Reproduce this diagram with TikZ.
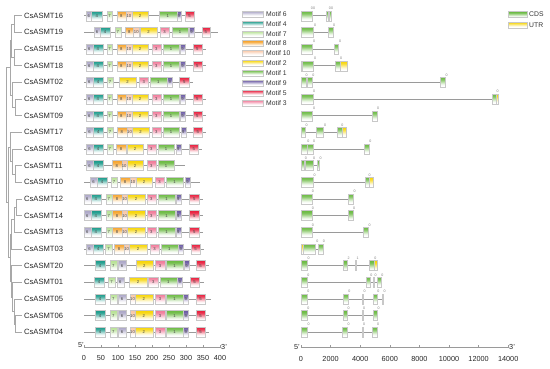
\documentclass[tikz,border=0pt]{standalone}
\usepackage{fontspec}
\setmainfont{Liberation Sans}
\definecolor{m1}{HTML}{6DBB45}
\definecolor{m2}{HTML}{F7D508}
\definecolor{m3}{HTML}{F07C9B}
\definecolor{m4}{HTML}{1E9C8C}
\definecolor{m5}{HTML}{E8213F}
\definecolor{m6}{HTML}{ADA8C8}
\definecolor{m7}{HTML}{B8E296}
\definecolor{m8}{HTML}{F6A531}
\definecolor{m9}{HTML}{6C5BA5}
\definecolor{m10}{HTML}{F9C7A6}
\definecolor{mc}{HTML}{6DBB45}
\definecolor{mu}{HTML}{F7D508}
\definecolor{boxgray}{HTML}{C8C8C8}
\definecolor{linegray}{HTML}{9A9A9A}
\definecolor{treegray}{HTML}{A8A8A8}
\definecolor{txtgray}{HTML}{444444}
\tikzset{
  lbl/.style={font=\fontsize{7.6}{8}\selectfont, text=black!85, inner sep=0pt, anchor=west},
  motlbl/.style={font=\fontsize{4.2}{4.5}\selectfont, text=txtgray, inner sep=0pt},
  phlbl/.style={font=\fontsize{3.6}{4}\selectfont, text=gray, inner sep=0pt},
  leglbl/.style={font=\fontsize{6.8}{7}\selectfont, text=black!80, inner sep=0pt, anchor=west},
  axlbl/.style={font=\fontsize{7.3}{8}\selectfont, text=black!85, inner sep=0pt},
  bb/.style={line width=0.3pt, draw=boxgray},
  protline/.style={draw=linegray, line width=0.8pt},
  treeline/.style={draw=treegray, line width=0.6pt},
}
% gradient box: y, x1, x2, colour; solid colour at top fading to white at bottom
\newcommand\gbox[4]{%
  \foreach \gk/\pc in {0/100,1/96,2/88,3/76,4/60,5/44,6/28,7/14,8/5,9/0} {
    \fill[#4!\pc] (#2,#1-5+\gk) rectangle (#3,#1-3.9+\gk);}
  \draw[bb] (#2,#1-5) rectangle (#3,#1+5);}
% legend swatch: y, x1, x2, colour (height 6)
\newcommand\lbox[4]{%
  \foreach \lk/\pc in {0/100,1/85,2/60,3/35,4/12,5/0} {
    \fill[#4!\pc] (#2,#1-3+\lk) rectangle (#3,#1-1.9+\lk);}
  \draw[bb] (#2,#1-3) rectangle (#3,#1+3);}
\newcommand\motbox[4]{%
  \gbox{#1}{#2}{#3}{m#4}%
  \node[motlbl] at ({(#2+#3)/2},#1) {#4};}
\newcommand\mrow[4]{%
  \draw[protline] (#2,#1) -- (#3,#1);
  \edef\mylist{#4}%
  \foreach \a/\b/\m in \mylist {\motbox{#1}{\a}{\b}{\m}}}
\newcommand\grow[5]{%
  \draw[protline] (#2,#1) -- (#3,#1);
  \edef\mylist{#4}%
  \foreach \a/\b/\t in \mylist {\gbox{#1}{\a}{\b}{m\t}}
  \edef\myphase{#5}%
  \foreach \p/\q in \myphase {\node[phlbl] at (\p,#1-7.5) {\q};}}
\begin{document}
\begin{tikzpicture}[x=1pt,y=-1pt]
\useasboundingbox (0,0) rectangle (550,368);

% ---------------- labels and tree ----------------
\foreach \n/\k in {16/0,19/1,15/2,18/3,02/4,07/5,09/6,17/7,08/8,11/9,10/10,12/11,14/12,13/13,03/14,20/15,01/16,05/17,06/18,04/19} {
  \node[lbl] (t\n) at (24,15.7+16.66*\k) {CsASMT\n};
}
\coordinate (n1619) at (14,24);
\coordinate (n1518) at (14,57.3);
\coordinate (nA1) at (11.7,40.7);
\coordinate (n0709) at (15,107.3);
\coordinate (nA2) at (12.7,94.8);
\coordinate (nA) at (10,67.7);
\coordinate (n1110) at (15,174);
\coordinate (n08) at (12.7,161.5);
\coordinate (nC) at (10,146.9);
\coordinate (n1214) at (16,207.2);
\coordinate (n13) at (14,219.7);
\coordinate (nD) at (11.7,234.3);
\coordinate (n0604) at (15,323.8);
\coordinate (n05) at (14,311.4);
\coordinate (n01) at (12.7,296.8);
\coordinate (nE) at (11.7,281.1);
\coordinate (nDE) at (10,257.7);
\coordinate (nBCDE) at (8,202.3);
\coordinate (root) at (6.5,135);
\foreach \p/\c in {n1619/t16,n1619/t19,n1518/t15,n1518/t18,n0709/t07,n0709/t09,nA2/t02,
  n1110/t11,n1110/t10,n08/t08,nC/t17,n1214/t12,n1214/t14,n13/t13,nD/t03,
  n0604/t06,n0604/t04,n05/t05,n01/t01,nE/t20} {
  \draw[treeline] (\p) |- ([xshift=-2pt]\c.west);
}
\foreach \p/\c in {nA1/n1619,nA1/n1518,nA2/n0709,nA/nA1,nA/nA2,n08/n1110,nC/n08,
  n13/n1214,nD/n13,n05/n0604,n01/n05,nE/n01,nDE/nD,nDE/nE,nBCDE/nC,nBCDE/nDE,root/nA,root/nBCDE} {
  \draw[treeline] (\p) |- (\c);
}

% ---------------- motif rows ----------------
\def\rowS{86/92.7/6, 92.7/102.7/4, 106.7/112.3/7, 116.7/126/8, 126/131.7/10, 131.7/148.3/2, 151.7/161/3, 162.7/179.3/1, 180/185/9, 192.7/201.7/5}
\def\rowT{84/90.7/6, 90.7/100.7/4, 106/111.7/7, 112/122/8, 122/127.3/10, 127.3/145/2, 146.7/156/3, 158.3/175/1, 176/180.7/9, 189.3/199.3/5}
\def\rowU{95/105/4, 110/116.7/7, 118.3/125.7/6, 130/135/10, 135/152.7/2, 155/165/3, 166/183.3/1, 183.3/188.3/9, 196/205/5}
\mrow{15.7}{84}{194.3}{86/91.5/6, 91.5/102/4, 106.7/112.3/7, 116.7/126/8, 126/131.7/10, 131.7/148.3/2, 159/176.7/1, 176.7/181/9, 185/194.3/5}
\mrow{32.36}{84}{218.3}{94/100/6, 100/110/4, 114.7/120.7/7, 125.3/133.3/8, 133.3/139.3/10, 140/157.3/2, 160/169.3/3, 171.7/188.3/1, 189.3/194/9, 201.7/210/5}
\mrow{49.02}{84}{206}{\rowS}
\mrow{65.68}{84}{206}{\rowS}
\mrow{82.34}{84}{193.3}{86/92.7/6, 92.7/103.3/4, 107.3/112.7/7, 119.3/136/2, 139.3/148.3/3, 150/166.7/1, 167.3/172.3/9, 179.3/189.3/5}
\mrow{99.0}{84}{206}{\rowS}
\mrow{115.66}{84}{206}{\rowS}
\mrow{132.32}{84}{206}{86/93.3/6, 93.3/103.3/4, 106.7/113.3/7, 116.7/126.7/8, 126.7/132.3/10, 132.3/149/2, 151.7/161/3, 162.7/179.3/1, 180.7/185.7/9, 193.3/202.3/5}
\mrow{148.98}{84}{202.3}{86/93.3/6, 93.3/102.7/4, 106.7/112.7/7, 116/126/8, 126.7/143.3/2, 146.7/156/3, 157.7/174.3/1, 176/180.7/9, 189.3/198.3/5}
\mrow{165.64}{84}{185}{86/93.3/6, 93.3/102.7/4, 111.7/121.7/8, 121.7/126.7/10, 126.7/143.3/2, 146.7/156/3, 157.7/174.3/1}
\mrow{182.3}{84}{200}{90/97.3/6, 97.3/106.7/4, 110.7/117.3/7, 120/130/8, 130/135.7/10, 135.7/152.3/2, 155/164.3/3, 166/183.3/1, 185/190/9}
\mrow{198.96}{84}{202.7}{\rowT}
\mrow{215.62}{84}{202.7}{\rowT}
\mrow{232.28}{84}{202.7}{\rowT}
\mrow{248.94}{84}{204}{86/93.3/6, 93.3/103.3/4, 105/112.3/7, 114/124/8, 124/129.3/10, 129.3/146.7/2, 150/159/3, 161/177.7/1, 178.3/183.3/9, 191/200/5}
\mrow{265.6}{84}{209.3}{95/105/4, 110/116.7/7, 118.3/125.7/6, 136/152.7/2, 155/165/3, 166/183.3/1, 184/189/9, 196/205/5}
\mrow{282.26}{84}{204}{94/104/4, 108.3/115/7, 116.7/124/6, 129.3/146.7/2, 148.3/158.3/3, 160/176.7/1, 177.3/182.3/9, 190/199.3/5}
\mrow{298.92}{84}{211}{\rowU}
\mrow{315.58}{84}{209}{\rowU}
\mrow{332.24}{84}{209}{\rowU}

% ---------------- motif axis ----------------
\draw[protline, line width=0.6pt] (84,347.5) -- (220,347.5);
\foreach \v in {0,50,...,400} {
  \draw[linegray, line width=0.5pt] ({84+0.34*\v},347.5) -- ({84+0.34*\v},344.5);
  \node[axlbl] at ({84+0.34*\v},358) {\v};
}
\node[axlbl, anchor=south east] at (84,348) {5'};
\node[axlbl, anchor=south west] at (221,350) {3'};

% ---------------- motif legend ----------------
\foreach \m/\j in {6/0,4/1,7/2,8/3,10/4,2/5,1/6,9/7,5/8,3/9} {
  \pgfmathsetmacro\ly{14+9.85*\j}
  \lbox{\ly}{242}{263}{m\m}
  \node[leglbl] at (266,\ly) {Motif \m};
}

% ---------------- gene structure rows ----------------
\grow{15.7}{301}{330.7}{301/311.7/c, 326/328.3/c, 329/330.7/c}{313/00, 331/00}
\grow{32.36}{301}{332.7}{301/313.3/c, 327.7/332.7/c}{315/0, 334/0}
\grow{49.02}{301}{338.3}{301/312.3/c, 334/338.3/c}{314/0, 340/0}
\grow{65.68}{301}{346.7}{301/302/u, 302/313.3/c, 335/340/c, 340/346.7/u}{315/0, 341/0}
\grow{82.34}{301}{445}{301/305.7/c, 306.7/312.3/c, 440/445/c}{306.5/0, 313.5/0, 446.5/0}
\grow{99.0}{301}{498.3}{301/312.7/c, 491.7/496/c, 496/498.3/u}{314/0, 497.5/0}
\grow{115.66}{301}{376.7}{301/312.3/c, 372.3/376.7/c}{314/0, 378/0}
\grow{132.32}{301}{345.7}{301/305/c, 316/323.3/c, 336.7/341.7/c, 341.7/345.7/u}{306.5/0, 325/0, 342.5/0}
\grow{148.98}{301}{369}{301/306.7/c, 307.3/312.7/c, 364/369/c}{308.3/0, 314/0, 370.3/0}
\grow{165.64}{301}{319.3}{301/304/c, 304.7/312.7/c, 316.7/319.3/c}{306/0, 314/0, 320.6/0}
\grow{182.3}{301}{373.3}{301/313.3/c, 365/369/c, 369/373.3/u}{314.5/0, 369.5/0}
\grow{198.96}{301}{353.3}{301/311.7/c, 348.3/353.3/c}{313/0, 354.6/0}
\grow{215.62}{301}{352.7}{301/311.7/c, 348.3/352.7/c}{313/0, 354/0}
\grow{232.28}{301}{368.3}{301/311.7/c, 363.3/368.3/c}{313/0, 369.6/0}
\grow{248.94}{301}{322.7}{301/302.7/u, 302.7/315/c, 318.3/322.7/c}{317.3/0, 324/0}
\grow{265.6}{301}{377.3}{301/307.3/c, 342.7/347.3/c, 355.3/356.3/c, 369.3/374.3/c, 374.3/377.3/u}{308.6/0, 348.6/2, 357.7/1, 375.3/0}
\grow{282.26}{301}{380.7}{301/306.7/c, 366/370/c, 373.3/374.3/c, 376.7/380.7/c}{308.3/0, 371.3/0, 375.5/0, 382.3/0}
\grow{298.92}{301}{383.3}{301/306.7/c, 343.3/347.7/c, 362.3/363.3/c, 372.7/376.7/c, 382.3/383.3/c}{308.3/0, 349.3/0, 364.7/0, 378.3/0, 384.6/0}
\grow{315.58}{301}{377.3}{301/306.7/c, 342.7/347.3/c, 361.7/362.7/c, 372.7/377.3/c}{308.3/0, 348.7/0, 364/0, 378.7/0}
\grow{332.24}{301}{376.7}{301/307.3/c, 342.3/347.3/c, 361.7/362.7/c, 371.7/376.7/c}{308.6/0, 348.7/0, 364/0, 378/0}

% ---------------- gene axis ----------------
\draw[protline, line width=0.6pt] (301,347.5) -- (508.3,347.5);
\foreach \v [evaluate=\v as \xx using {301+0.014807*\v}] in {0,2000,...,14000} {
  \draw[linegray, line width=0.5pt] (\xx,347.5) -- (\xx,344.5);
  \node[axlbl] at (\xx,358.5) {\v};
}
\node[axlbl, anchor=south east] at (300,350) {5'};
\node[axlbl, anchor=south west] at (509,350) {3'};

% ---------------- gene legend ----------------
\lbox{14.5}{508}{527}{mc}
\node[leglbl] at (529,14.5) {CDS};
\lbox{25}{508}{527}{mu}
\node[leglbl] at (529,25) {UTR};
\end{tikzpicture}
\end{document}
